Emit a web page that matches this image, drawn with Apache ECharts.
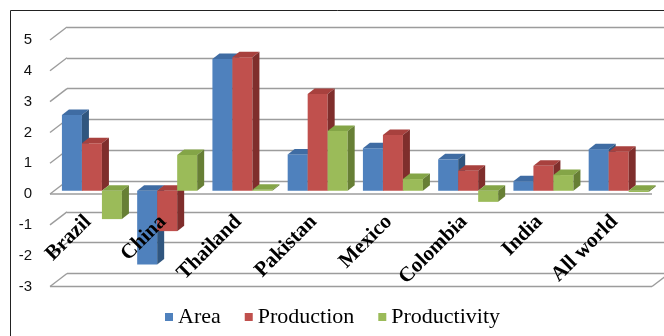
<!DOCTYPE html>
<html>
<head>
<meta charset="utf-8">
<script src="https://cdn.jsdelivr.net/npm/echarts@6/dist/echarts.min.js"></script>
<style>
  html, body { margin: 0; padding: 0; background: #fff; }
  #chart { width: 664px; height: 336px; }
</style>
</head>
<body>
<div id="chart"></div>
<script>
const categories = ['Brazil', 'China', 'Thailand', 'Pakistan', 'Mexico', 'Colombia', 'India', 'All world'];
const area = [2.46, -2.39, 4.28, 1.18, 1.38, 1.02, 0.31, 1.35];
const production = [1.54, -1.31, 4.33, 3.14, 1.81, 0.65, 0.81, 1.27];
const productivity = [-0.92, 1.16, 0.03, 1.94, 0.38, -0.36, 0.51, -0.04];
const yTicks = [-3, -2, -1, 0, 1, 2, 3, 4, 5];

const myChart = echarts.init(document.getElementById('chart'));

// colours: front, top, side
const faces = [
  ['#4F81BD', '#3f6ca3', '#30567f'],
  ['#C0504D', '#a8413e', '#7f2e2c'],
  ['#9BBB59', '#84a547', '#677f35']
];
const wallDx = 17, wallDy = 13; // back wall -> front edge
const barDx = 7, barDy = 5.5;   // bar depth
const barW = 20;
const gridColor = '#9c9c9c';

// walls: side wall diagonals, front axis line at 0 and floor at -3
function renderWall(params, api) {
  const v = api.value(1);
  const p = api.coord([0, v]);
  const q = api.coord([1, v]);
  const style = { stroke: gridColor, lineWidth: 1.4 };
  const kids = [{
    type: 'line',
    shape: { x1: p[0], y1: p[1], x2: p[0] - wallDx, y2: p[1] + wallDy },
    style: style
  }];
  if (v === 0 || v === -3) {
    kids.push({
      type: 'line',
      shape: { x1: p[0] - wallDx, y1: p[1] + wallDy, x2: q[0] - wallDx, y2: q[1] + wallDy },
      style: style
    });
  }
  if (v === -3) {
    kids.push({
      type: 'line',
      shape: { x1: q[0] - wallDx, y1: q[1] + wallDy, x2: q[0], y2: q[1] },
      style: style
    });
  }
  return { type: 'group', children: kids };
}

function barRenderer(k) {
  return function (params, api) {
    const idx = api.value(0);
    const val = api.value(1);
    const base = api.coord([idx, 0]);
    const end = api.coord([idx, val]);
    const left = base[0] - 30 + k * barW;
    const yTop = Math.min(base[1], end[1]);
    const yBot = Math.max(base[1], end[1]);
    const c = faces[k];
    return {
      type: 'group',
      children: [
        {
          type: 'rect',
          shape: { x: left, y: yTop, width: barW, height: yBot - yTop },
          style: { fill: c[0] }
        },
        {
          type: 'polygon',
          shape: { points: [[left, yTop], [left + barDx, yTop - barDy], [left + barW + barDx, yTop - barDy], [left + barW, yTop]] },
          style: { fill: c[1] }
        },
        {
          type: 'polygon',
          shape: { points: [[left + barW, yTop], [left + barW + barDx, yTop - barDy], [left + barW + barDx, yBot - barDy], [left + barW, yBot]] },
          style: { fill: c[2] }
        }
      ]
    };
  };
}

const valueAxisBase = { type: 'value', min: -3, max: 5, interval: 1 };
const gridBase = { outerBoundsMode: 'none', containLabel: false };

const option = {
  animation: false,
  color: faces.map(f => f[0]),
  graphic: [{
    type: 'rect',
    shape: { x: 10.5, y: 10.5, width: 700, height: 400 },
    style: { fill: 'none', stroke: '#222', lineWidth: 1 },
    silent: true
  }],
  legend: {
    data: ['Area', 'Production', 'Productivity'],
    icon: 'rect',
    itemWidth: 8,
    itemHeight: 8,
    itemGap: 24,
    padding: 0,
    left: 165,
    top: 306,
    textStyle: { fontFamily: 'Liberation Serif', fontSize: 22, color: '#000' }
  },
  grid: [
    // back wall
    Object.assign({ left: 67, top: 27, width: 602, height: 246.5 }, gridBase),
    // bar plane
    Object.assign({ left: 54.3, top: 36.7, width: 602, height: 246.5 }, gridBase),
    // front edge (value labels)
    Object.assign({ left: 50, top: 40, width: 602, height: 246.5 }, gridBase),
    // category labels, bottom edge on the zero line of the bar plane
    Object.assign({ left: 50.3, top: 36.7, width: 602, height: 154 }, gridBase)
  ],
  xAxis: [
    { gridIndex: 0, type: 'value', min: 0, max: 1, show: false },
    { gridIndex: 1, type: 'category', data: categories, show: false },
    { gridIndex: 2, type: 'value', min: 0, max: 1, show: false },
    {
      gridIndex: 3,
      type: 'category',
      data: categories,
      z: 20,
      axisLine: { show: false },
      axisTick: { show: false },
      axisLabel: {
        rotate: 45,
        margin: 28,
        interval: 0,
        fontFamily: 'Liberation Serif',
        fontWeight: 'bold',
        fontSize: 21,
        color: '#000'
      }
    }
  ],
  yAxis: [
    Object.assign({ gridIndex: 0 }, valueAxisBase, {
      axisLabel: { show: false },
      axisLine: { show: false },
      axisTick: { show: false },
      splitLine: { show: true, lineStyle: { color: gridColor, width: 1.4 } }
    }),
    Object.assign({ gridIndex: 1, show: false }, valueAxisBase),
    Object.assign({ gridIndex: 2 }, valueAxisBase, {
      axisLine: { show: false },
      axisTick: { show: false },
      splitLine: { show: false },
      axisLabel: { margin: 18, fontFamily: 'Liberation Sans', fontSize: 15, color: '#111' }
    }),
    { gridIndex: 3, type: 'value', min: 0, max: 1, show: false }
  ],
  series: [
    {
      name: 'walls',
      type: 'custom',
      xAxisIndex: 0,
      yAxisIndex: 0,
      silent: true,
      z: 1,
      data: yTicks.map(v => [0, v]),
      renderItem: renderWall
    },
    {
      name: 'Area',
      type: 'custom',
      xAxisIndex: 1,
      yAxisIndex: 1,
      z: 2,
      itemStyle: { color: faces[0][0] },
      data: area.map((v, i) => [i, v]),
      renderItem: barRenderer(0)
    },
    {
      name: 'Production',
      type: 'custom',
      xAxisIndex: 1,
      yAxisIndex: 1,
      z: 3,
      itemStyle: { color: faces[1][0] },
      data: production.map((v, i) => [i, v]),
      renderItem: barRenderer(1)
    },
    {
      name: 'Productivity',
      type: 'custom',
      xAxisIndex: 1,
      yAxisIndex: 1,
      z: 4,
      itemStyle: { color: faces[2][0] },
      data: productivity.map((v, i) => [i, v]),
      renderItem: barRenderer(2)
    }
  ]
};
myChart.setOption(option);
</script>
</body>
</html>
